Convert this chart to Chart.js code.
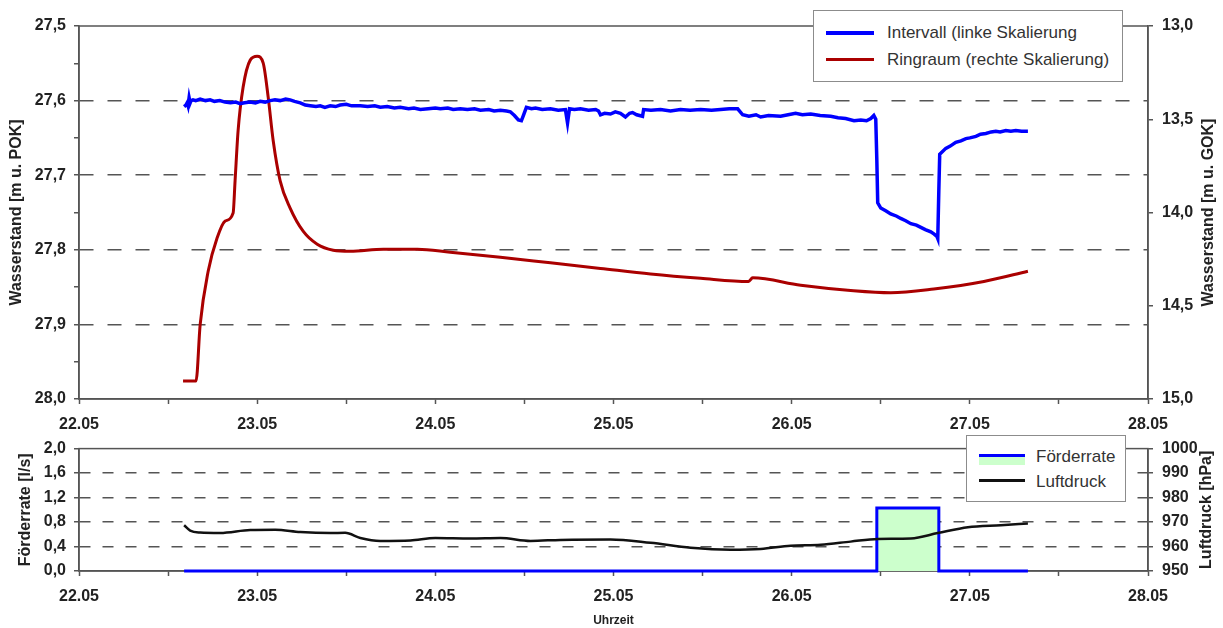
<!DOCTYPE html>
<html>
<head>
<meta charset="utf-8">
<script src="https://cdn.jsdelivr.net/npm/chart.js@4.4.1/dist/chart.umd.min.js"></script>
<style>
  body { margin: 0; background: #fff; font-family: "Liberation Sans", Arial, sans-serif; }
  #wrap { position: relative; width: 1223px; height: 628px; overflow: hidden; }
  canvas { position: absolute; left: 0; }
  .legend { position: absolute; background: #fff; border: 1px solid #8c8c8c; box-sizing: border-box; }
  .legend .txt { position: absolute; font-size: 17px; color: #333; white-space: nowrap; line-height: 20px; }
  .legend .line { position: absolute; }
</style>
</head>
<body>
<div id="wrap">
  <canvas id="top" width="1223" height="440" style="top:0"></canvas>
  <canvas id="bottom" width="1223" height="198" style="top:430px"></canvas>

  <div class="legend" style="left:813px; top:10px; width:310px; height:72px;">
    <div class="line" style="left:12px; top:20px; width:48px; height:4px; background:#0000ff;"></div>
    <div class="txt" style="left:73px; top:12px;">Intervall (linke Skalierung</div>
    <div class="line" style="left:12px; top:47px; width:48px; height:3px; background:#aa0000;"></div>
    <div class="txt" style="left:73px; top:39px;">Ringraum (rechte Skalierung)</div>
  </div>

  <div class="legend" style="left:966px; top:435px; width:160px; height:67px;">
    <div class="line" style="left:12px; top:18px; width:46px; height:8px; background:#ccffcc; border-top:3px solid #0000ff;"></div>
    <div class="txt" style="left:69px; top:11px;">Förderrate</div>
    <div class="line" style="left:12px; top:43px; width:46px; height:3px; background:#111;"></div>
    <div class="txt" style="left:69px; top:36px;">Luftdruck</div>
  </div>
</div>

<script>
// x = day of May
const dayLabels = ['22.05', '23.05', '24.05', '25.05', '26.05', '27.05', '28.05'];

// Intervall, m u. POK (left scale, top chart)
const intervallDays = [
  22.59, 22.600, 22.607, 22.612, 22.618, 22.624, 22.629, 22.640, 22.655, 22.68,
  22.71, 22.736, 22.76, 22.79, 22.82, 22.85, 22.88, 22.904, 22.93, 22.96,
  22.99, 23.017, 23.045, 23.073, 23.10, 23.129, 23.16, 23.185, 23.21, 23.242,
  23.27, 23.298, 23.33, 23.354, 23.38, 23.41, 23.44, 23.466, 23.50, 23.53,
  23.579, 23.62, 23.66, 23.691, 23.73, 23.77, 23.803, 23.85, 23.88, 23.916,
  23.96, 24.0, 24.028, 24.07, 24.10, 24.14, 24.18, 24.22, 24.253, 24.30,
  24.33, 24.365, 24.40, 24.421, 24.444, 24.466, 24.483, 24.494, 24.511, 24.54,
  24.562, 24.60, 24.646, 24.69, 24.73, 24.742, 24.753, 24.78, 24.815, 24.86,
  24.90, 24.916, 24.927, 24.95, 24.983, 25.01, 25.039, 25.067, 25.09, 25.107,
  25.13, 25.163, 25.169, 25.21, 25.264, 25.32, 25.376, 25.43, 25.489, 25.55,
  25.601, 25.65, 25.697, 25.725, 25.76, 25.80, 25.826, 25.87, 25.938, 25.98,
  26.022, 26.06, 26.107, 26.16, 26.219, 26.26, 26.303, 26.35, 26.388, 26.42,
  26.444, 26.461, 26.472, 26.478, 26.483, 26.50, 26.53, 26.556, 26.59, 26.612,
  26.64, 26.669, 26.70, 26.725, 26.75, 26.781, 26.80, 26.815, 26.82, 26.826,
  26.831, 26.865, 26.89, 26.921, 26.95, 26.978, 27.00, 27.034, 27.06, 27.09,
  27.12, 27.146, 27.17, 27.202, 27.23, 27.258, 27.29, 27.326];
const intervallValues = [
  27.608, 27.606, 27.603, 27.607, 27.596, 27.603, 27.600, 27.599, 27.600, 27.598,
  27.600, 27.599, 27.601, 27.600, 27.602, 27.603, 27.602, 27.604, 27.603, 27.602,
  27.603, 27.601, 27.602, 27.600, 27.599, 27.600, 27.598, 27.599, 27.601, 27.603,
  27.606, 27.607, 27.608, 27.607, 27.609, 27.607, 27.608, 27.606, 27.605, 27.607,
  27.607, 27.608, 27.607, 27.609, 27.608, 27.610, 27.609, 27.611, 27.610, 27.612,
  27.611, 27.610, 27.611, 27.610, 27.612, 27.611, 27.612, 27.611, 27.613, 27.612,
  27.614, 27.613, 27.614, 27.615, 27.620, 27.626, 27.627, 27.620, 27.609, 27.611,
  27.610, 27.612, 27.611, 27.613, 27.612, 27.630, 27.611, 27.612, 27.611, 27.613,
  27.612, 27.614, 27.619, 27.617, 27.618, 27.615, 27.617, 27.622, 27.617, 27.616,
  27.619, 27.621, 27.612, 27.613, 27.612, 27.614, 27.612, 27.613, 27.612, 27.613,
  27.612, 27.611, 27.611, 27.619, 27.621, 27.619, 27.622, 27.620, 27.621, 27.619,
  27.617, 27.619, 27.618, 27.620, 27.621, 27.623, 27.624, 27.627, 27.626, 27.627,
  27.624, 27.620, 27.625, 27.680, 27.737, 27.744, 27.748, 27.752, 27.755, 27.758,
  27.761, 27.765, 27.767, 27.770, 27.773, 27.776, 27.779, 27.782, 27.785, 27.720,
  27.672, 27.664, 27.661, 27.656, 27.654, 27.651, 27.650, 27.648, 27.645, 27.644,
  27.642, 27.641, 27.642, 27.640, 27.641, 27.640, 27.641, 27.641];

// Ringraum, m u. GOK (right scale, top chart)
const ringDays = [22.584, 22.657, 22.68, 22.725, 22.775, 22.82, 22.865, 22.876, 22.893, 22.921,
  22.961, 23.0, 23.034, 23.062, 23.09, 23.129, 23.185, 23.258, 23.337, 23.427,
  23.522, 23.708, 23.899, 24.084, 24.365, 24.646, 24.927, 25.208, 25.489, 25.758,
  25.781, 26.051, 26.331, 26.556, 26.798, 27.079, 27.326];
const ringValues = [14.903, 14.903, 14.601, 14.315, 14.137, 14.046, 14.003, 13.830, 13.561, 13.329,
  13.183, 13.162, 13.199, 13.383, 13.615, 13.830, 13.976, 14.100, 14.170, 14.202,
  14.208, 14.197, 14.197, 14.213, 14.240, 14.270, 14.300, 14.330, 14.353, 14.370,
  14.350, 14.390, 14.418, 14.430, 14.410, 14.370, 14.315];

// Förderrate, l/s (bottom chart, step)
const rateDays = [22.59, 26.478, 26.826, 27.326];
const rateValues = [0, 1.03, 0, 0];

// Luftdruck, hPa (bottom chart, right scale)
const pressDays = [22.59, 22.624, 22.68, 22.792, 22.961, 23.101, 23.242, 23.41, 23.494, 23.579,
  23.691, 23.86, 24.0, 24.197, 24.365, 24.534, 24.702, 24.983, 25.208, 25.433,
  25.657, 25.826, 25.994, 26.163, 26.331, 26.483, 26.669, 26.82, 26.989, 27.174, 27.326];
const pressValues = [968.7, 966.5, 965.7, 965.5, 966.7, 966.8, 965.9, 965.5, 965.6, 963.5,
  962.3, 962.5, 963.5, 963.3, 963.5, 962.3, 962.7, 962.9, 961.5, 959.5,
  958.7, 959.0, 960.3, 960.7, 962.0, 963.1, 963.3, 965.5, 967.9, 968.7, 969.4];

const pts = (xs, ys) => xs.map((x, i) => ({ x: x, y: ys[i] }));
const comma = (v, d) => v.toFixed(d).replace('.', ',');
const FONT = '"Liberation Sans", Arial, sans-serif';
const tickFont = { family: FONT, size: 16, weight: 'bold' };
const titleFont = { family: FONT, size: 16, weight: 'bold' };
const AXIS = '#555';

// frame round the plot area and right-hand titles (read bottom to top)
const sideTitle = {
  id: 'sideTitle',
  beforeDatasetsDraw(chart) {
    const { ctx, chartArea: a } = chart;
    ctx.save();
    ctx.strokeStyle = AXIS;
    ctx.lineWidth = 1.5;
    ctx.strokeRect(a.left, a.top, a.right - a.left, a.bottom - a.top);
    ctx.restore();
  },
  afterDraw(chart, args, opts) {
    const { ctx, chartArea: a } = chart;
    ctx.save();
    ctx.translate(opts.x, (a.top + a.bottom) / 2);
    ctx.rotate(-Math.PI / 2);
    ctx.font = 'bold 16px ' + FONT;
    ctx.fillStyle = '#222';
    ctx.textAlign = 'center';
    ctx.textBaseline = 'middle';
    ctx.fillText(opts.text, 0, 0);
    ctx.restore();
  }
};

function xAxis(height, title) {
  return {
    type: 'linear', min: 22, max: 28,
    afterFit: s => { s.height = height; },
    grid: { drawOnChartArea: false, tickLength: 5, tickColor: AXIS, tickWidth: 1.5 },
    border: { color: AXIS, width: 1.5 },
    ticks: {
      stepSize: 0.5, autoSkip: false, maxRotation: 0, padding: 11, color: '#222', font: tickFont,
      callback: v => Number.isInteger(v) ? dayLabels[v - 22] : ''
    },
    title: title
      ? { display: true, text: title, color: '#222', font: { family: FONT, size: 12, weight: 'bold' }, padding: { top: 0, bottom: 0 } }
      : { display: false }
  };
}

function yAxis(opts) {
  return {
    position: opts.pos, reverse: !!opts.reverse, min: opts.min, max: opts.max,
    afterFit: s => { s.width = opts.width; },
    grid: {
      drawOnChartArea: opts.pos === 'left',
      color: c => (c.tick && opts.isGrid(c.tick.value)) ? AXIS : 'rgba(0,0,0,0)',
      lineWidth: 1.5, tickLength: 5, tickColor: AXIS, tickWidth: 1.5
    },
    border: { color: AXIS, width: 1.5, dash: opts.dash },
    ticks: { stepSize: opts.step, autoSkip: false, padding: opts.pad, color: '#222', font: tickFont, callback: opts.label },
    title: opts.title
      ? { display: true, text: opts.title, color: '#222', font: titleFont, padding: { top: opts.titlePad, bottom: 0 } }
      : { display: false }
  };
}

const common = {
  responsive: false, animation: false,
  elements: { point: { radius: 0 }, line: { tension: 0 } },
  plugins: { legend: { display: false }, tooltip: { enabled: false } }
};

new Chart(document.getElementById('top'), {
  type: 'line',
  data: {
    datasets: [
      { label: 'Intervall (linke Skalierung', data: pts(intervallDays, intervallValues), yAxisID: 'y',
        borderColor: '#0000ff', borderWidth: 3.5, fill: false, order: 1 },
      { label: 'Ringraum (rechte Skalierung)', data: pts(ringDays, ringValues), yAxisID: 'y2',
        borderColor: '#aa0000', borderWidth: 3, fill: false, cubicInterpolationMode: 'monotone', order: 2 }
    ]
  },
  options: Object.assign({}, common, {
    layout: { padding: { top: 26, left: 0, right: 0, bottom: 0 } },
    scales: {
      x: xAxis(41, null),
      y: yAxis({
        pos: 'left', reverse: true, min: 27.5, max: 28.0, width: 79, step: 0.05, pad: 8, dash: [14, 14],
        isGrid: v => { const k = Math.round(v * 100); return k % 10 === 0 && k > 2750 && k < 2800; },
        label: v => Math.round(v * 100) % 10 === 0 ? comma(v, 1) : '',
        title: 'Wasserstand [m u. POK]', titlePad: 7
      }),
      y2: yAxis({
        pos: 'right', reverse: true, min: 13, max: 15, width: 75, step: 0.5, pad: 9,
        isGrid: () => false, label: v => comma(v, 1)
      })
    },
    plugins: Object.assign({}, common.plugins, { sideTitle: { x: 1209, text: 'Wasserstand [m u. GOK]' } })
  }),
  plugins: [sideTitle]
});

new Chart(document.getElementById('bottom'), {
  type: 'line',
  data: {
    datasets: [
      { label: 'Förderrate', data: pts(rateDays, rateValues), yAxisID: 'y', stepped: true,
        borderColor: '#0000ff', borderWidth: 3, backgroundColor: '#ccffcc', fill: 'origin', clip: false, order: 2 },
      { label: 'Luftdruck', data: pts(pressDays, pressValues), yAxisID: 'y2',
        borderColor: '#111', borderWidth: 2.5, fill: false, cubicInterpolationMode: 'monotone', order: 1 }
    ]
  },
  options: Object.assign({}, common, {
    layout: { padding: { top: 16, left: 0, right: 0, bottom: 0 } },
    scales: {
      x: xAxis(57, 'Uhrzeit'),
      y: yAxis({
        pos: 'left', min: 0, max: 2, width: 79, step: 0.4, pad: 8, dash: [11, 12],
        isGrid: v => v > 0.01 && v < 1.99,
        label: v => comma(v, 1),
        title: 'Förderrate [l/s]', titlePad: 16
      }),
      y2: yAxis({
        pos: 'right', min: 950, max: 1000, width: 75, step: 10, pad: 9,
        isGrid: () => false, label: v => String(v)
      })
    },
    plugins: Object.assign({}, common.plugins, { sideTitle: { x: 1207, text: 'Luftdruck [hPa]' } })
  }),
  plugins: [sideTitle]
});
</script>
</body>
</html>
